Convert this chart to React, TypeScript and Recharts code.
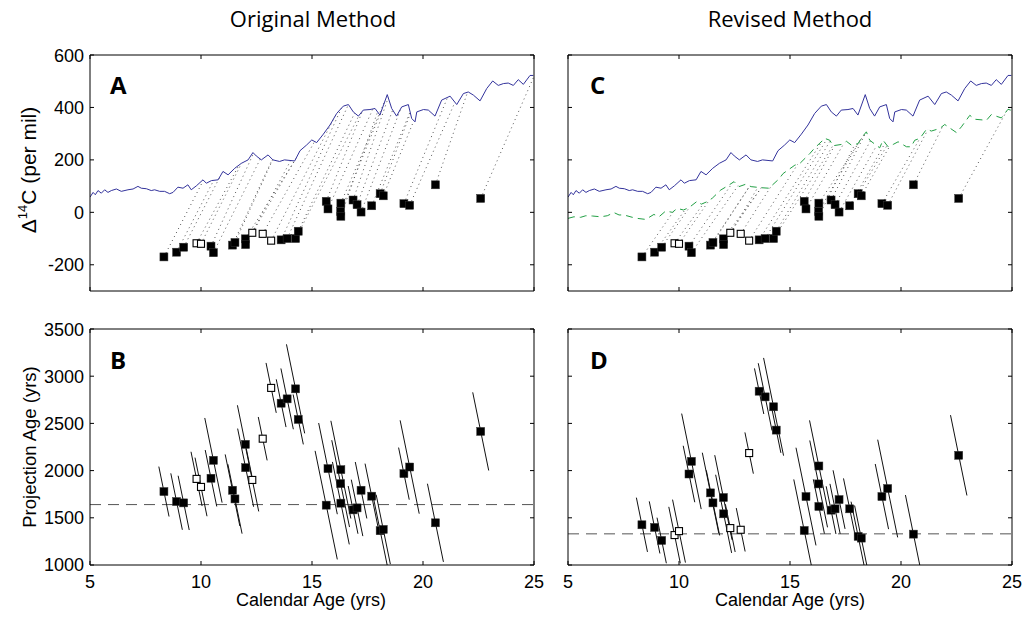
import { ComposedChart, Line, Scatter, XAxis, YAxis } from "recharts";

// sample calendar ages (kyr) and measured Δ14C (per mil), same in A and C
const calAge = [
  8.33, 8.9, 9.22, 9.8, 10.0, 10.45, 10.56, 11.42, 11.53, 12.0, 12.01, 12.31, 12.78, 13.16, 13.61, 13.88, 14.26,
  14.38, 15.64, 15.72, 16.3, 16.29, 16.3, 16.85, 17.03, 17.21, 17.69, 18.07, 18.21, 19.14, 19.4, 20.56, 22.6,
];
const sampleD14C = [
  -170, -152, -133, -118, -120, -129, -154, -125, -115, -101, -123, -78, -82, -108, -105, -100, -100, -72, 42, 13,
  35, 4, -15, 47, 29, 1, 25, 71, 63, 33, 27, 105, 53,
];
// projection ages (yrs), original (B) and revised (D)
const projAgeOrig = [
  1778, 1672, 1658, 1912, 1827, 1919, 2109, 1792, 1700, 2278, 2031, 1901, 2338, 2876, 2714, 2760, 2866, 2542, 1634,
  2021, 2010, 1862, 1655, 1584, 1605, 1792, 1729, 1363, 1377, 1968, 2038, 1447, 2415,
];
const projAgeRev = [
  1426, 1398, 1260, 1317, 1359, 1964, 2098, 1764, 1658, 1715, 1542, 1391, 1373, 2186, 2841, 2781, 2676, 2429, 1366,
  1725, 2049, 1859, 1620, 1581, 1595, 1693, 1595, 1303, 1285, 1725, 1810, 1327, 2162,
];
// half-width (kyr) of the uncertainty line through each point
const spreadOrig = [
  0.23, 0.26, 0.25, 0.25, 0.27, 0.26, 0.39, 0.33, 0.32, 0.36, 0.36, 0.29, 0.2, 0.23, 0.22, 0.28, 0.41, 0.23, 0.5,
  0.42, 0.45, 0.4, 0.38, 0.22, 0.26, 0.26, 0.3, 0.34, 0.32, 0.24, 0.43, 0.36, 0.36,
];
const spreadRev = [
  0.25, 0.24, 0.21, 0.26, 0.29, 0.26, 0.44, 0.37, 0.3, 0.39, 0.36, 0.22, 0.2, 0.19, 0.21, 0.31, 0.45, 0.21, 0.47,
  0.45, 0.42, 0.4, 0.25, 0.22, 0.23, 0.27, 0.28, 0.32, 0.3, 0.3, 0.45, 0.36, 0.37,
];
const openIdx = [3, 4, 11, 12, 13];

// atmospheric curve (blue)
const atmAge = [
  5.0, 5.14, 5.24, 5.36, 5.51, 5.66, 5.81, 5.96, 6.19, 6.41, 6.71, 6.94, 7.16, 7.31, 7.54, 7.76, 7.91, 8.14, 8.36,
  8.59, 8.74, 8.96, 9.19, 9.41, 9.56, 9.79, 10.09, 10.24, 10.47, 10.77, 10.99, 11.22, 11.52, 11.82, 12.12, 12.34,
  12.49, 12.72, 13.02, 13.24, 13.54, 13.76, 14.22, 14.46, 14.76, 14.99, 15.21, 15.51, 15.81, 16.11, 16.41, 16.64,
  16.86, 17.09, 17.31, 17.61, 17.84, 18.06, 18.39, 18.59, 18.81, 19.04, 19.34, 19.49, 19.64, 19.72, 20.02, 20.24,
  20.54, 20.84, 21.22, 21.52, 21.82, 22.04, 22.27, 22.57, 22.87, 23.14, 23.39, 23.62, 23.84, 24.07, 24.29, 24.52,
  24.82, 24.97,
];
const atmD14C = [
  58, 76, 67, 83, 73, 86, 76, 83, 89, 80, 86, 89, 99, 92, 90, 83, 86, 80, 80, 71, 76, 96, 92, 105, 86, 101, 124, 111,
  121, 124, 156, 143, 168, 187, 200, 228, 215, 200, 219, 200, 194, 200, 196, 235, 257, 276, 266, 298, 333, 377, 405,
  411, 383, 367, 390, 392, 396, 371, 449, 396, 367, 402, 411, 358, 345, 383, 392, 390, 367, 428, 443, 411, 453, 459,
  447, 425, 472, 501, 484, 491, 493, 484, 506, 488, 522, 522,
];
// revised reference curve (green dashed)
const revAge = [
  5.0, 5.27, 5.57, 5.8, 6.1, 6.47, 6.77, 7.07, 7.3, 7.52, 7.9, 8.12, 8.5, 8.87, 9.1, 9.4, 9.7, 9.92, 10.2, 10.45,
  10.83, 11.0, 11.28, 11.5, 11.88, 12.25, 12.48, 12.7, 13.0, 13.25, 13.68, 14.05, 14.5, 14.69, 15.22, 15.44, 15.89,
  16.12, 16.57, 16.79, 16.94, 17.32, 17.54, 17.77, 18.07, 18.22, 18.44, 18.59, 19.04, 19.19, 19.42, 19.65, 19.87,
  20.25, 20.45, 20.62, 20.85, 21.15, 21.37, 21.75, 21.97, 22.5, 22.72, 23.1, 23.32, 23.85, 24.07, 24.52, 24.82, 24.97,
];
const revD14C = [
  -23, -17, -19, -13, -14, -17, -13, -1, -10, -10, -19, -23, -27, -8, -17, 5, 0, 15, 9, 18, 43, 31, 41, 54, 85, 104,
  117, 98, 107, 98, 94, 92, 127, 148, 180, 186, 224, 246, 282, 275, 254, 259, 271, 256, 262, 284, 307, 275, 246, 275,
  250, 259, 269, 250, 250, 275, 282, 317, 310, 320, 335, 304, 326, 370, 355, 351, 373, 360, 393, 389,
];

const X_TICKS = [5, 10, 15, 20, 25];
const D14C_TICKS = [-200, 0, 200, 400, 600];
const PROJ_TICKS = [1000, 1500, 2000, 2500, 3000, 3500];
const BASE_ORIG = 1640;
const BASE_REV = 1330;
const SLOPE = -1150; // yrs of projection age per kyr along the error line

const BLUE = "#33339c";
const GREEN = "#22a045";
const FONT = "'Liberation Sans', Arial, sans-serif";
const TITLE_FONT = "'Open Sans', sans-serif";

type Pt = { x: number; y: number };

function interp(xs: number[], ys: number[], x: number) {
  if (x <= xs[0]) return ys[0];
  for (let i = 1; i < xs.length; i++) {
    if (x <= xs[i]) {
      const t = (x - xs[i - 1]) / (xs[i] - xs[i - 1]);
      return ys[i - 1] + t * (ys[i] - ys[i - 1]);
    }
  }
  return ys[ys.length - 1];
}

const toPts = (xs: number[], ys: number[]): Pt[] => xs.map((x, i) => ({ x, y: ys[i] }));

const filledPts = (ys: number[]) => calAge.map((x, i) => ({ x, y: ys[i], i })).filter((p) => !openIdx.includes(p.i));
const openPts = (ys: number[]) => calAge.map((x, i) => ({ x, y: ys[i], i })).filter((p) => openIdx.includes(p.i));

// dotted projection from each sample up to the reference curve
const projections = (ages: number[], cx: number[], cy: number[]): Pt[][] =>
  calAge.map((x, i) => {
    const ex = x + ages[i] / 1000;
    return [
      { x, y: sampleD14C[i] },
      { x: ex, y: interp(cx, cy, ex) },
    ];
  });

const errLines = (ages: number[], spread: number[]): Pt[][] =>
  calAge.map((x, i) => [
    { x: x - spread[i], y: ages[i] - SLOPE * spread[i] },
    { x: x + spread[i], y: ages[i] + SLOPE * spread[i] },
  ]);

const FilledSquare = (p: any) => <rect x={p.cx - 4} y={p.cy - 4} width={8} height={8} fill="#000" stroke="#333" strokeWidth={0.5} />;
const OpenSquare = (p: any) => (
  <rect x={p.cx - 3.5} y={p.cy - 3.5} width={7} height={7} fill="#fff" stroke="#000" strokeWidth={1.1} />
);

const PW = 444;
const PH = 236;
const LW = 60;
const RW = 20;
const TH = 10;
const BH = 35;

interface PanelProps {
  left: number;
  top: number;
  yDomain: [number, number];
  yTicks: number[];
  yLabels: boolean;
  xLabels: boolean;
  children: React.ReactNode;
}

function Panel({ left, top, yDomain, yTicks, yLabels, xLabels, children }: PanelProps) {
  const tick = { fill: "#000", fontSize: 18, fontFamily: FONT };
  const none = () => "";
  const axis = { stroke: "#000", strokeWidth: 1 };
  return (
    <div style={{ position: "absolute", left: left - LW, top: top - TH }}>
      <ComposedChart width={LW + PW + RW} height={TH + PH + BH} margin={{ top: 0, right: 0, bottom: 0, left: 0 }}>
        <XAxis
          xAxisId="b"
          dataKey="x"
          type="number"
          domain={[5, 25]}
          ticks={X_TICKS}
          allowDataOverflow
          orientation="bottom"
          height={BH}
          tickSize={-4}
          tickMargin={14}
          tick={tick}
          tickFormatter={xLabels ? undefined : none}
          axisLine={axis}
          tickLine={axis}
        />
        <XAxis
          xAxisId="t"
          dataKey="x"
          type="number"
          domain={[5, 25]}
          ticks={X_TICKS}
          allowDataOverflow
          orientation="top"
          height={TH}
          tickSize={-4}
          tickFormatter={none}
          axisLine={axis}
          tickLine={axis}
        />
        <YAxis
          yAxisId="l"
          dataKey="y"
          type="number"
          domain={yDomain}
          ticks={yTicks}
          allowDataOverflow
          orientation="left"
          width={LW}
          tickSize={-4}
          tickMargin={10}
          tick={tick}
          tickFormatter={yLabels ? undefined : none}
          axisLine={axis}
          tickLine={axis}
        />
        <YAxis
          yAxisId="r"
          dataKey="y"
          type="number"
          domain={yDomain}
          ticks={yTicks}
          allowDataOverflow
          orientation="right"
          width={RW}
          tickSize={-4}
          tickFormatter={none}
          axisLine={axis}
          tickLine={axis}
        />
        {children}
      </ComposedChart>
    </div>
  );
}

const seg = (key: string, data: Pt[], stroke: string, dash?: string, width = 1) => (
  <Line
    key={key}
    data={data}
    dataKey="y"
    xAxisId="b"
    yAxisId="l"
    type="linear"
    stroke={stroke}
    strokeWidth={width}
    strokeDasharray={dash}
    dot={false}
    activeDot={false}
    isAnimationActive={false}
  />
);

const markers = (ys: number[]) => [
  <Scatter key="f" data={filledPts(ys)} dataKey="y" xAxisId="b" yAxisId="l" shape={FilledSquare} isAnimationActive={false} />,
  <Scatter key="o" data={openPts(ys)} dataKey="y" xAxisId="b" yAxisId="l" shape={OpenSquare} isAnimationActive={false} />,
];

function TopPanel({ left, revised }: { left: number; revised: boolean }) {
  const proj = revised ? projections(projAgeRev, revAge, revD14C) : projections(projAgeOrig, atmAge, atmD14C);
  return (
    <Panel left={left} top={55} yDomain={[-300, 600]} yTicks={D14C_TICKS} yLabels={!revised} xLabels={false}>
      {proj.map((d, i) => seg(`p${i}`, d, "#555", "1 3.5"))}
      {seg("atm", toPts(atmAge, atmD14C), BLUE, undefined, 1)}
      {revised ? seg("rev", toPts(revAge, revD14C), GREEN, "7 5", 1) : null}
      {markers(sampleD14C)}
    </Panel>
  );
}

function BottomPanel({ left, revised }: { left: number; revised: boolean }) {
  const ages = revised ? projAgeRev : projAgeOrig;
  const lines = errLines(ages, revised ? spreadRev : spreadOrig);
  const base = revised ? BASE_REV : BASE_ORIG;
  return (
    <Panel left={left} top={329} yDomain={[1000, 3500]} yTicks={PROJ_TICKS} yLabels={!revised} xLabels>
      {seg("base", [{ x: 5, y: base }, { x: 25, y: base }], "#555", "11 7")}
      {lines.map((d, i) => seg(`e${i}`, d, "#111"))}
      {markers(ages)}
    </Panel>
  );
}

export default function App() {
  return (
    <div style={{ position: "absolute", left: 0, top: 0, width: 1027, height: 618, background: "#fff" }}>
      <TopPanel left={90} revised={false} />
      <TopPanel left={568} revised />
      <BottomPanel left={90} revised={false} />
      <BottomPanel left={568} revised />
      <svg width={1027} height={618} style={{ position: "absolute", left: 0, top: 0, pointerEvents: "none" }}>
        <text x={313} y={27} textAnchor="middle" fontFamily={TITLE_FONT} fontSize={22} fill="#000">
          Original Method
        </text>
        <text x={790} y={27} textAnchor="middle" fontFamily={TITLE_FONT} fontSize={22} fill="#000">
          Revised Method
        </text>
        <text x={311} y={606} textAnchor="middle" fontFamily={FONT} fontSize={18} fill="#000">
          Calendar Age (yrs)
        </text>
        <text x={790} y={606} textAnchor="middle" fontFamily={FONT} fontSize={18} fill="#000">
          Calendar Age (yrs)
        </text>
        <text x={36} y={170} transform="rotate(-90 36 170)" textAnchor="middle" fontFamily={FONT} fontSize={21} fill="#000">
          Δ<tspan fontSize={13} dy={-9}>14</tspan>
          <tspan dy={9}>C (per mil)</tspan>
        </text>
        <text x={36} y={447} transform="rotate(-90 36 447)" textAnchor="middle" fontFamily={FONT} fontSize={18.5} fill="#000">
          Projection Age (yrs)
        </text>
        {[
          ["A", 110, 93.5],
          ["B", 110, 368.5],
          ["C", 590, 93.5],
          ["D", 590, 369],
        ].map(([t, x, y]) => (
          <text key={t as string} x={x as number} y={y as number} fontFamily={TITLE_FONT} fontWeight={700} fontSize={24} fill="#000">
            {t}
          </text>
        ))}
      </svg>
    </div>
  );
}
